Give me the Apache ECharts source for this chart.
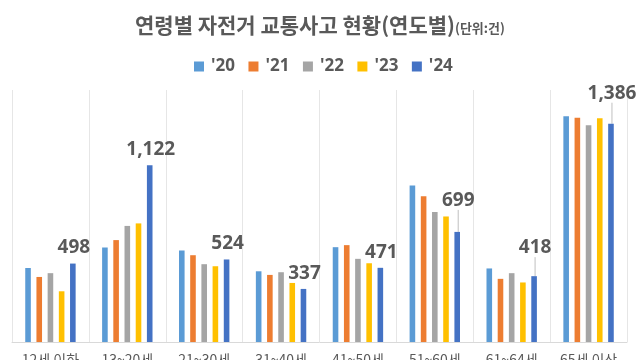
<!DOCTYPE html>
<html><head><meta charset="utf-8">
<script src="https://cdn.jsdelivr.net/npm/echarts@6/dist/echarts.min.js"></script>
<style>html,body{margin:0;padding:0;background:#fff}#c{width:640px;height:360px}</style>
</head><body><div id="c"></div>
<script>
const categories = ['12세 이하', '13~20세', '21~30세', '31~40세', '41~50세', '51~60세', '61~64세', '65세 이상'];
const seriesNames = ["'20", "'21", "'22", "'23", "'24"];
const y2020 = [470, 600, 581, 449, 602, 994, 467, 1433];
const y2021 = [413, 647, 551, 426, 615, 926, 401, 1424];
const y2022 = [437, 737, 494, 443, 528, 825, 437, 1376];
const y2023 = [322, 753, 481, 375, 500, 797, 378, 1420];
const y2024 = [498, 1122, 524, 337, 471, 699, 418, 1386];

const colors = ['#5B9BD5', '#ED7D31', '#A5A5A5', '#FFC000', '#4472C4'];
const labelShift = [0, 0, 0, 0, 0, -16, -13, -15];
const allData = [y2020, y2021, y2022, y2023, y2024];

const chart = echarts.init(document.getElementById('c'), null, {renderer: 'canvas'});
const series = allData.map((d, i) => {
  const s = {
    name: seriesNames[i], type: 'bar', barWidth: 5.6, barGap: '100%',
    itemStyle: {color: colors[i]},
    data: d
  };
  if (i === 4) {
    s.data = d.map((v, k) => ({
      value: v,
      labelLine: {show: labelShift[k] !== 0}
    }));
    s.label = {
      show: true, position: 'top', distance: 6, color: '#595959', fontSize: 19, fontWeight: 'bold',
      fontFamily: 'Open Sans, Noto Sans, sans-serif',
      formatter: p => p.value.toLocaleString('en-US')
    };
    s.labelLine = {lineStyle: {color: '#BFBFBF', width: 1}};
    s.labelLayout = p => ({dy: labelShift[p.dataIndex], dx: 1});
  }
  return s;
});

chart.setOption({
  animation: false,
  color: colors,
  title: {
    text: '{a|연령별 자전거 교통사고 현황(연도별)}{b|(단위:건)}',
    left: 130, top: 10,
    textStyle: {
      rich: {
        a: {fontSize: 21, fontWeight: 'bold', color: '#595959', fontFamily: 'Noto Sans CJK KR'},
        b: {fontSize: 13, color: '#595959', fontFamily: 'Noto Sans CJK KR', padding: [5, 0, 0, 0]}
      }
    }
  },
  legend: {
    data: seriesNames, left: 189, top: 53,
    itemWidth: 10, itemHeight: 10, itemGap: 13.5, icon: 'rect',
    textStyle: {color: '#595959', fontSize: 17, fontWeight: 'bold', fontFamily: 'Open Sans, sans-serif',
      width: 27, padding: [0, 0, 0, 2]}
  },
  grid: {left: 12, right: 13, top: 90, bottom: 18, containLabel: false, outerBoundsMode: 'none'},
  xAxis: {
    type: 'category', data: categories, boundaryGap: true,
    axisLine: {lineStyle: {color: '#D9D9D9'}},
    axisTick: {show: false},
    splitLine: {show: true, lineStyle: {color: '#E6E6E6'}},
    axisLabel: {color: '#595959', fontSize: 14, margin: 11, fontFamily: 'Noto Sans CJK KR', interval: 0}
  },
  yAxis: {
    type: 'value', min: 0, max: 1600, interval: 200,
    show: false, splitLine: {show: false}
  },
  series: series
});
</script></body></html>
